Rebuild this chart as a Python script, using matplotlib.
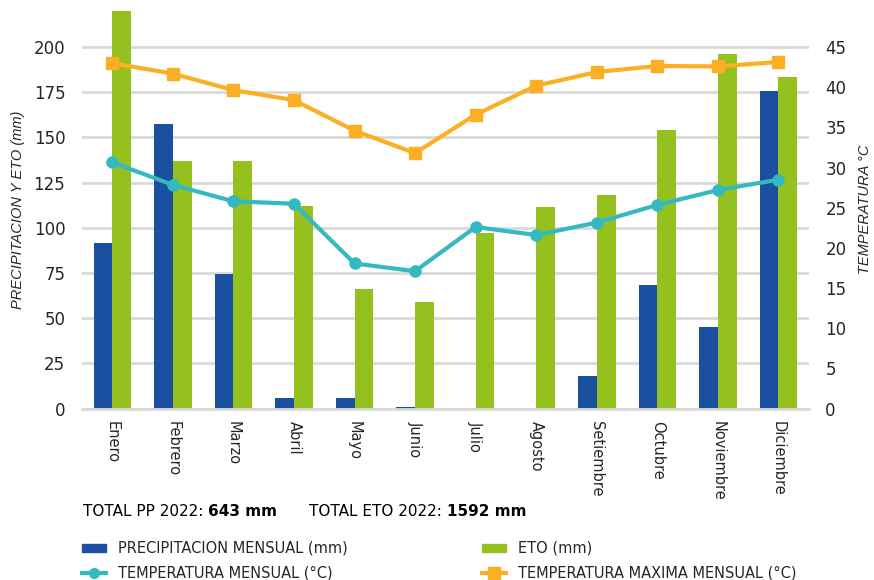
import matplotlib
matplotlib.use("Agg")
import matplotlib.pyplot as plt
import numpy as np
from matplotlib.lines import Line2D
from matplotlib.patches import Rectangle

months = ["Enero", "Febrero", "Marzo", "Abril", "Mayo", "Junio", "Julio",
          "Agosto", "Setiembre", "Octubre", "Noviembre", "Diciembre"]
precip = [91.5, 157.3, 74.4, 5.8, 5.8, 0.6, 0, 0, 18, 68.3, 45, 176]
eto = [221, 137.2, 137.2, 112, 65.9, 58.7, 97.2, 111.4, 118, 154.1, 196, 183.2]
temp_mean = [30.65, 27.85, 25.8, 25.5, 18.06, 17.1, 22.6, 21.6, 23.15, 25.35, 27.2, 28.5]
temp_max = [43.0, 41.7, 39.65, 38.4, 34.6, 31.8, 36.6, 40.2, 41.9, 42.65, 42.6, 43.15]
left_ticks = [0, 25, 50, 75, 100, 125, 150, 175, 200]
right_ticks = [0, 5, 10, 15, 20, 25, 30, 35, 40, 45]

BLUE = "#1b4f9f"
GREEN = "#95c11f"
CYAN = "#35b9c1"
ORANGE = "#fbb024"
TXT = "#262626"
GRID = "#d9d9d9"

plt.rcParams['font.family'] = ['DejaVu Sans']

W, H = 874, 580
fig = plt.figure(figsize=(W / 100, H / 100), dpi=100)
ax = fig.add_axes([82 / W, 1 - 408.5 / H, (808.7 - 82) / W, (408.5 - 11) / H])
ax2 = ax.twinx()

x = np.arange(len(months))
bw = 0.31
ax.bar(x - bw / 2, precip, width=bw, color=BLUE, zorder=2)
ax.bar(x + bw / 2, eto, width=bw, color=GREEN, zorder=2)
ax.set_xlim(-0.5, len(months) - 0.5)
ax.set_ylim(0, 220)
ax.set_yticks(left_ticks)
ax.yaxis.grid(True, color=GRID, linewidth=2)
ax.set_axisbelow(True)
for s in ["top", "right", "left"]:
    ax.spines[s].set_visible(False)
ax.spines["bottom"].set_color(GRID)
ax.spines["bottom"].set_linewidth(2)
ax.tick_params(axis="y", length=0, labelsize=12, labelcolor=TXT, pad=12)
ax.tick_params(axis="x", length=0, labelsize=10.5, labelcolor=TXT, pad=9)
ax.set_xticks(x)
ax.set_xticklabels(months, rotation=270, va="top", ha="center")
ax.set_ylabel("PRECIPITACION Y ETO (mm)", fontsize=10.5, style="italic", color=TXT,
              labelpad=6, family="Liberation Sans")

ax2.plot(x, temp_mean, color=CYAN, linewidth=3, marker="o", markersize=8, zorder=3)
ax2.plot(x, temp_max, color=ORANGE, linewidth=3, marker="s", markersize=9, zorder=3)
ax2.set_ylim(0, 49.5)
ax2.set_yticks(right_ticks)
for s in ["top", "right", "left", "bottom"]:
    ax2.spines[s].set_visible(False)
ax2.tick_params(axis="y", length=0, labelsize=12, labelcolor=TXT, pad=12)
ax2.set_ylabel("TEMPERATURA °C", fontsize=10.5, style="italic", color=TXT,
               labelpad=8, family="Liberation Sans")

# Totals text
fig.canvas.draw()
r = fig.canvas.get_renderer()
def mixed(xpx, ypx, normal, bold):
    t1 = fig.text(xpx / W, 1 - ypx / H, normal, fontsize=11, color="black", va="center", ha="left")
    bb = t1.get_window_extent(renderer=r)
    fig.text(bb.x1 / W, 1 - ypx / H, bold, fontsize=11, color="black", va="center",
             ha="left", fontweight="bold")
mixed(83, 511, "TOTAL PP 2022: ", "643 mm")
mixed(309, 511, "TOTAL ETO 2022: ", "1592 mm")

# Legend (manual)
def fy(ypx):
    return 1 - ypx / H
entries = [
    (82, 548, "bar", BLUE, "PRECIPITACION MENSUAL (mm)"),
    (482, 548, "bar", GREEN, "ETO (mm)"),
    (82, 573, "o", CYAN, "TEMPERATURA MENSUAL (°C)"),
    (482, 573, "s", ORANGE, "TEMPERATURA MAXIMA MENSUAL (°C)"),
]
for px, py, kind, col, label in entries:
    if kind == "bar":
        fig.add_artist(Rectangle((px / W, fy(py + 4)), 24 / W, 8 / H, color=col,
                                 transform=fig.transFigure))
    else:
        fig.add_artist(Line2D([px / W, (px + 24) / W], [fy(py), fy(py)], color=col,
                              linewidth=3, marker=None, transform=fig.transFigure))
        fig.add_artist(Line2D([(px + 12) / W], [fy(py)], color=col, marker=kind,
                              markersize=7 if kind == "o" else 8, transform=fig.transFigure))
    fig.text((px + 36) / W, fy(py), label, fontsize=10.5, color=TXT, va="center", ha="left")

fig.savefig("out.png", dpi=100)
